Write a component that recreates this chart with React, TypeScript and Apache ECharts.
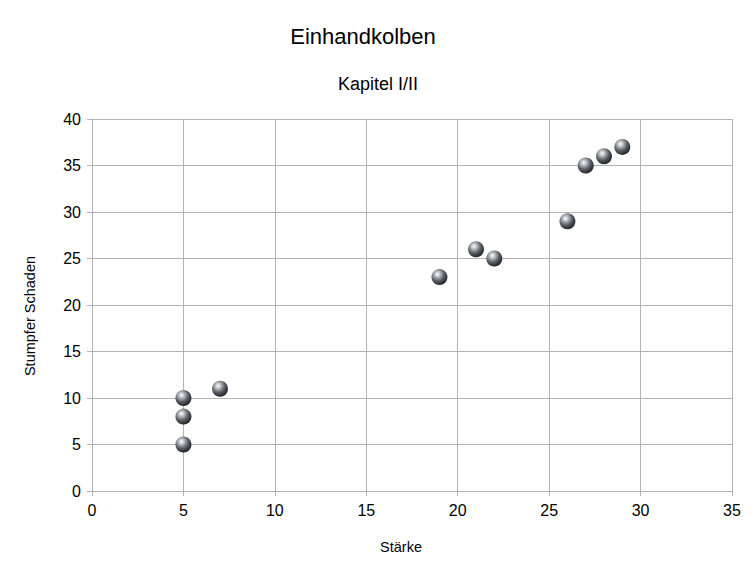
import React, { useRef, useEffect } from 'react';
import * as echarts from 'echarts';

// Stärke vs. stumpfer Schaden
const staerke = [5, 5, 5, 7, 19, 21, 22, 26, 27, 28, 29];
const schaden = [5, 8, 10, 11, 23, 26, 25, 29, 35, 36, 37];

const FONT = '"Liberation Sans", Arial, sans-serif';
const GRID_GRAY = '#b3b3b3';

const App: React.FC = () => {
  const chartRef = useRef<HTMLDivElement>(null);

  useEffect(() => {
    document.body.style.margin = '0';
    if (!chartRef.current) return;
    const chart = echarts.init(chartRef.current, undefined, { renderer: 'svg' });

    // metallic ball look
    const sphere = new echarts.graphic.RadialGradient(0.38, 0.32, 0.7, [
      { offset: 0, color: '#ffffff' },
      { offset: 0.25, color: '#b8bcc2' },
      { offset: 0.6, color: '#5a5e64' },
      { offset: 1, color: '#1e2024' },
    ]);

    const option: echarts.EChartsOption = {
      animation: false,
      backgroundColor: '#ffffff',
      textStyle: { fontFamily: FONT },
      title: [
        {
          text: 'Einhandkolben',
          left: 358,
          top: 20,
          textAlign: 'center',
          textStyle: { fontFamily: FONT, fontSize: 22, fontWeight: 'normal', color: '#000' },
        },
        {
          text: 'Kapitel I/II',
          left: 373,
          top: 70,
          textAlign: 'center',
          textStyle: { fontFamily: FONT, fontSize: 18, fontWeight: 'normal', color: '#000' },
        },
      ],
      grid: { left: 92, right: 24, top: 119, bottom: 89, containLabel: false },
      xAxis: {
        type: 'value',
        min: 0,
        max: 35,
        interval: 5,
        name: 'Stärke',
        nameLocation: 'middle',
        nameGap: 48,
        nameTextStyle: { fontFamily: FONT, fontSize: 14.5, color: '#000', padding: [0, 22, 0, 0] },
        axisLine: { show: true, lineStyle: { color: GRID_GRAY } },
        axisTick: { show: true, length: 5, lineStyle: { color: GRID_GRAY } },
        axisLabel: { fontFamily: FONT, fontSize: 16, color: '#000', margin: 11 },
        splitLine: { show: true, lineStyle: { color: GRID_GRAY, width: 1 } },
      },
      yAxis: {
        type: 'value',
        min: 0,
        max: 40,
        interval: 5,
        name: 'Stumpfer Schaden',
        nameLocation: 'middle',
        nameGap: 55,
        nameTextStyle: { fontFamily: FONT, fontSize: 14.5, color: '#000', padding: [0, 22, 0, 0] },
        axisLine: { show: true, lineStyle: { color: GRID_GRAY } },
        axisTick: { show: true, length: 5, lineStyle: { color: GRID_GRAY } },
        axisLabel: { fontFamily: FONT, fontSize: 16, color: '#000', margin: 11 },
        splitLine: { show: true, lineStyle: { color: GRID_GRAY, width: 1 } },
      },
      series: [
        {
          type: 'scatter',
          symbol: 'circle',
          symbolSize: 16,
          data: staerke.map((x, i) => [x, schaden[i]]),
          itemStyle: { color: sphere, opacity: 1 },
        },
      ],
    };

    chart.setOption(option);
    return () => chart.dispose();
  }, []);

  return <div ref={chartRef} style={{ width: 756, height: 580 }} />;
};

export default App;
